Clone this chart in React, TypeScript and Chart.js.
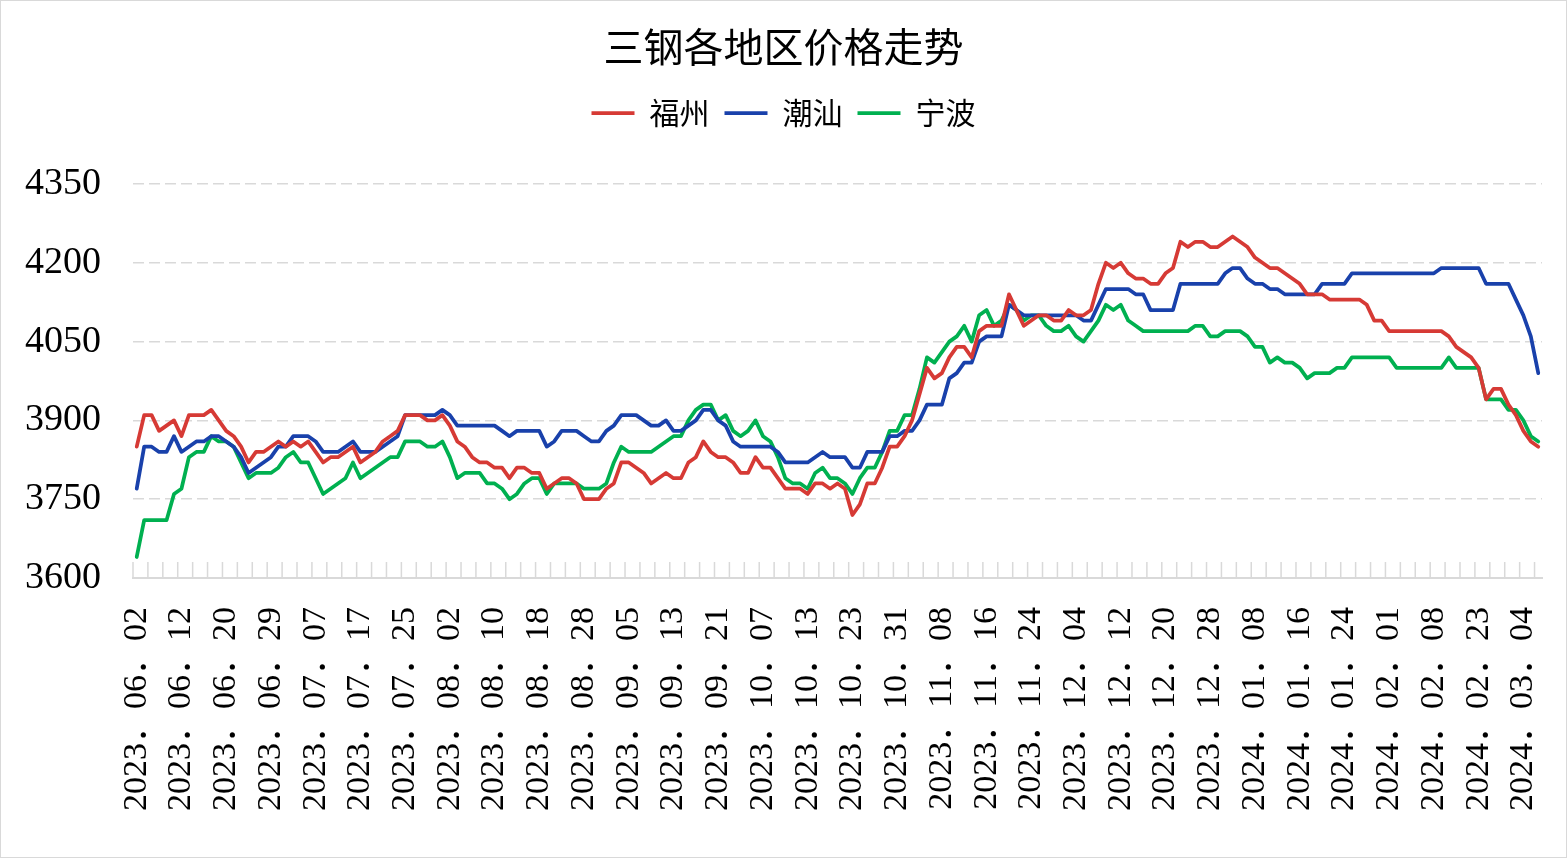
import { useEffect, useRef } from 'react';
import { Chart, registerables } from 'chart.js';

Chart.register(...registerables);

// date shown under every 6th point
const tickDates = [
  '2023.06.02', '2023.06.12', '2023.06.20', '2023.06.29', '2023.07.07', '2023.07.17',
  '2023.07.25', '2023.08.02', '2023.08.10', '2023.08.18', '2023.08.28', '2023.09.05',
  '2023.09.13', '2023.09.21', '2023.10.07', '2023.10.13', '2023.10.23', '2023.10.31',
  '2023.11.08', '2023.11.16', '2023.11.24', '2023.12.04', '2023.12.12', '2023.12.20',
  '2023.12.28', '2024.01.08', '2024.01.16', '2024.01.24', '2024.02.01', '2024.02.08',
  '2024.02.23', '2024.03.04',
];
const LABEL_EVERY = 6;

const fuzhou = [
  3850, 3910, 3910, 3880, 3890, 3900, 3870, 3910, 3910, 3910,
  3920, 3900, 3880, 3870, 3850, 3820, 3840, 3840, 3850, 3860,
  3850, 3860, 3850, 3860, 3840, 3820, 3830, 3830, 3840, 3850,
  3820, 3830, 3840, 3860, 3870, 3880, 3910, 3910, 3910, 3900,
  3900, 3910, 3890, 3860, 3850, 3830, 3820, 3820, 3810, 3810,
  3790, 3810, 3810, 3800, 3800, 3770, 3780, 3790, 3790, 3780,
  3750, 3750, 3750, 3770, 3780, 3820, 3820, 3810, 3800, 3780,
  3790, 3800, 3790, 3790, 3820, 3830, 3860, 3840, 3830, 3830,
  3820, 3800, 3800, 3830, 3810, 3810, 3790, 3770, 3770, 3770,
  3760, 3780, 3780, 3770, 3780, 3770, 3720, 3740, 3780, 3780,
  3810, 3850, 3850, 3870, 3900, 3950, 4000, 3980, 3990, 4020,
  4040, 4040, 4020, 4070, 4080, 4080, 4080, 4140, 4110, 4080,
  4090, 4100, 4100, 4090, 4090, 4110, 4100, 4100, 4110, 4160,
  4200, 4190, 4200, 4180, 4170, 4170, 4160, 4160, 4180, 4190,
  4240, 4230, 4240, 4240, 4230, 4230, 4240, 4250, 4240, 4230,
  4210, 4200, 4190, 4190, 4180, 4170, 4160, 4140, 4140, 4140,
  4130, 4130, 4130, 4130, 4130, 4120, 4090, 4090, 4070, 4070,
  4070, 4070, 4070, 4070, 4070, 4070, 4060, 4040, 4030, 4020,
  4000, 3940, 3960, 3960, 3930, 3910, 3880, 3860, 3850,
];

const chaoshan = [
  3770, 3850, 3850, 3840, 3840, 3870, 3840, 3850, 3860, 3860,
  3870, 3870, 3860, 3850, 3830, 3800, 3810, 3820, 3830, 3850,
  3850, 3870, 3870, 3870, 3860, 3840, 3840, 3840, 3850, 3860,
  3840, 3840, 3840, 3850, 3860, 3870, 3910, 3910, 3910, 3910,
  3910, 3920, 3910, 3890, 3890, 3890, 3890, 3890, 3890, 3880,
  3870, 3880, 3880, 3880, 3880, 3850, 3860, 3880, 3880, 3880,
  3870, 3860, 3860, 3880, 3890, 3910, 3910, 3910, 3900, 3890,
  3890, 3900, 3880, 3880, 3890, 3900, 3920, 3920, 3900, 3890,
  3860, 3850, 3850, 3850, 3850, 3850, 3840, 3820, 3820, 3820,
  3820, 3830, 3840, 3830, 3830, 3830, 3810, 3810, 3840, 3840,
  3840, 3870, 3870, 3880, 3880, 3900, 3930, 3930, 3930, 3980,
  3990, 4010, 4010, 4050, 4060, 4060, 4060, 4120, 4110, 4100,
  4100, 4100, 4100, 4100, 4100, 4100, 4100, 4090, 4090, 4120,
  4150, 4150, 4150, 4150, 4140, 4140, 4110, 4110, 4110, 4110,
  4160, 4160, 4160, 4160, 4160, 4160, 4180, 4190, 4190, 4170,
  4160, 4160, 4150, 4150, 4140, 4140, 4140, 4140, 4140, 4160,
  4160, 4160, 4160, 4180, 4180, 4180, 4180, 4180, 4180, 4180,
  4180, 4180, 4180, 4180, 4180, 4190, 4190, 4190, 4190, 4190,
  4190, 4160, 4160, 4160, 4160, 4130, 4100, 4060, 3990,
];

const ningbo = [
  3640, 3710, 3710, 3710, 3710, 3760, 3770, 3830, 3840, 3840,
  3870, 3860, 3860, 3850, 3820, 3790, 3800, 3800, 3800, 3810,
  3830, 3840, 3820, 3820, 3790, 3760, 3770, 3780, 3790, 3820,
  3790, 3800, 3810, 3820, 3830, 3830, 3860, 3860, 3860, 3850,
  3850, 3860, 3830, 3790, 3800, 3800, 3800, 3780, 3780, 3770,
  3750, 3760, 3780, 3790, 3790, 3760, 3780, 3780, 3780, 3780,
  3770, 3770, 3770, 3780, 3820, 3850, 3840, 3840, 3840, 3840,
  3850, 3860, 3870, 3870, 3900, 3920, 3930, 3930, 3900, 3910,
  3880, 3870, 3880, 3900, 3870, 3860, 3830, 3790, 3780, 3780,
  3770, 3800, 3810, 3790, 3790, 3780, 3760, 3790, 3810, 3810,
  3840, 3880, 3880, 3910, 3910, 3960, 4020, 4010, 4030, 4050,
  4060, 4080, 4050, 4100, 4110, 4080, 4090, 4120, 4110, 4090,
  4100, 4100, 4080, 4070, 4070, 4080, 4060, 4050, 4070, 4090,
  4120, 4110, 4120, 4090, 4080, 4070, 4070, 4070, 4070, 4070,
  4070, 4070, 4080, 4080, 4060, 4060, 4070, 4070, 4070, 4060,
  4040, 4040, 4010, 4020, 4010, 4010, 4000, 3980, 3990, 3990,
  3990, 4000, 4000, 4020, 4020, 4020, 4020, 4020, 4020, 4000,
  4000, 4000, 4000, 4000, 4000, 4000, 4020, 4000, 4000, 4000,
  4000, 3940, 3940, 3940, 3920, 3920, 3900, 3870, 3860,
];

const Y_MIN = 3600;
const Y_MAX = 4350;
const Y_STEP = 150;

const categories = fuzhou.map((_, i) =>
  i % LABEL_EVERY === 0 ? tickDates[i / LABEL_EVERY] ?? '' : ''
);

const GRID = '#d9d9d9';
const SERIF = "'Liberation Serif', 'Noto Sans CJK SC', serif";
const CJK = "'Noto Sans CJK SC', sans-serif";

// short tick marks inside the plot, every 2 categories, like Excel
const innerTicks = {
  id: 'innerTicks',
  beforeDatasetsDraw(chart: Chart) {
    const { ctx, chartArea, scales } = chart;
    const x = scales.x;
    const half = (x.getPixelForValue(1) - x.getPixelForValue(0)) / 2;
    ctx.save();
    ctx.strokeStyle = GRID;
    ctx.lineWidth = 1.5;
    ctx.beginPath();
    for (let i = 0; i < categories.length; i += 2) {
      const px = x.getPixelForValue(i) - half;
      ctx.moveTo(px, chartArea.bottom);
      ctx.lineTo(px, chartArea.bottom - 16);
    }
    ctx.stroke();
    ctx.restore();
  },
};

// extra room under the legend
const LEGEND_GAP = 46;
const legendGap = {
  id: 'legendGap',
  beforeInit(chart: any) {
    const legend = chart.legend;
    if (!legend) return;
    const fit = legend.fit;
    legend.fit = function () {
      fit.call(this);
      this.height += LEGEND_GAP;
    };
  },
};

function line(label: string, data: number[], color: string) {
  return {
    label,
    data,
    borderColor: color,
    backgroundColor: color,
    borderWidth: 3.75,
    pointRadius: 0,
    pointHoverRadius: 0,
    tension: 0,
    borderJoinStyle: 'round' as const,
    borderCapStyle: 'round' as const,
  };
}

function PriceTrendChart() {
  const chartRef = useRef<HTMLCanvasElement>(null);
  const chartInstance = useRef<Chart | null>(null);

  useEffect(() => {
    if (!chartRef.current) return;
    const ctx = chartRef.current.getContext('2d');
    if (!ctx) return;
    if (chartInstance.current) chartInstance.current.destroy();

    chartInstance.current = new Chart(ctx, {
      type: 'line',
      data: {
        labels: categories,
        datasets: [
          line('福州', fuzhou, '#d63a35'),
          line('潮汕', chaoshan, '#1941ab'),
          line('宁波', ningbo, '#00b050'),
        ],
      },
      options: {
        responsive: true,
        maintainAspectRatio: false,
        animation: false,
        layout: { padding: { top: 0, left: 24, right: 24, bottom: 17 } },
        plugins: {
          title: {
            display: true,
            text: '三钢各地区价格走势',
            color: '#000',
            font: { family: CJK, size: 40, weight: 'normal' },
            padding: { top: 22, bottom: 12 },
          },
          legend: {
            position: 'top',
            labels: {
              color: '#000',
              font: { family: CJK, size: 30 },
              usePointStyle: true,
              pointStyle: 'line',
              pointStyleWidth: 43,
              padding: 15,
            },
          },
          tooltip: { enabled: false },
        },
        scales: {
          x: {
            offset: true,
            grid: { display: false, drawTicks: false },
            border: { display: true, color: GRID, width: 2 },
            afterFit: (scale: any) => {
              scale.paddingLeft = 0;
              scale.paddingRight = 0;
            },
            ticks: {
              autoSkip: false,
              maxRotation: 90,
              minRotation: 90,
              padding: 29,
              color: '#000',
              font: { family: SERIF, size: 34 },
              callback: (_v, i) => (categories[i] ? categories[i].replace(/\./g, '．') : ''),
            },
          },
          y: {
            min: Y_MIN,
            max: Y_MAX,
            border: { display: false, dash: [11, 5] },
            afterFit: (scale: any) => {
              scale.width = 108;
            },
            grid: {
              color: (c) => (c.tick && c.tick.value === Y_MIN ? 'rgba(0,0,0,0)' : GRID),
              lineWidth: 1.5,
              drawTicks: false,
            },
            ticks: {
              stepSize: Y_STEP,
              padding: 32,
              color: '#000',
              font: { family: SERIF, size: 38 },
              callback: (v) => String(v),
            },
          },
        },
      },
      plugins: [innerTicks, legendGap],
    });

    return () => {
      if (chartInstance.current) {
        chartInstance.current.destroy();
        chartInstance.current = null;
      }
    };
  }, []);

  return (
    <div
      style={{
        position: 'fixed',
        left: 0,
        top: 0,
        width: 1567,
        height: 858,
        background: '#fff',
        boxSizing: 'border-box',
        border: '1px solid #d9d9d9',
      }}
    >
      <canvas ref={chartRef}></canvas>
    </div>
  );
}

export default PriceTrendChart;
